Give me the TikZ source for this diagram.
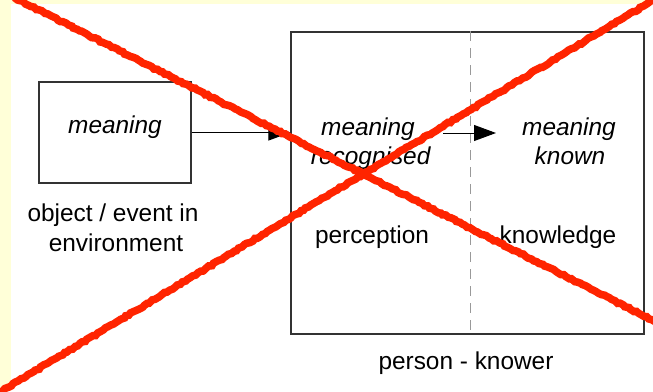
\documentclass[tikz,border=0pt]{standalone}
\usepackage{fontspec}
\setmainfont{Liberation Sans}
\usetikzlibrary{arrows.meta,decorations.pathmorphing}
\definecolor{paper}{HTML}{FFFFD8}
\definecolor{cross}{HTML}{FF2400}
\begin{document}
\begin{tikzpicture}[x=0.5pt, y=-0.5pt,
		every node/.style={font=\fontsize{12.2}{15}\selectfont, inner sep=0pt},
		box/.style={draw=black!80, line width=0.6pt, minimum width=76pt, minimum height=50.5pt},
		lbl/.style={anchor=base},
		link/.style={line width=0.5pt, -{Triangle[length=11pt, width=8pt]}},
		split/.style={draw=black!40, line width=0.6pt, dash pattern=on 5pt off 3.5pt},
		strike/.style={cross, line width=3.8pt, line cap=round,
			decorate, decoration={random steps, segment length=1.5pt, amplitude=0.4pt}}]
	\useasboundingbox (0,0) rectangle (653,391);
	\fill[paper] (0,0) rectangle (653,391);
	\fill[white] (11,4) rectangle (653,391);

	\node[box] (env) at (115,132.5) {};
	\node[box, minimum width=176.5pt, minimum height=151pt] (knower) at (467.5,183) {};
	\coordinate (rs) at (443,133);
	\coordinate (ke) at (496,133);

	\node[lbl] (m1) at (115,133) {\textit{meaning}};
	\node[lbl] (obj) at (113,221) {object / event in};
	\node[lbl] (envt) at (116,251) {environment};
	\node[lbl] (m2) at (368,135) {\textit{meaning}};
	\node[lbl] (rec) at (371,164) {\textit{recognised}};
	\node[lbl] (m3) at (569,135) {\textit{meaning}};
	\node[lbl] (kn) at (570,164) {\textit{known}};
	\node[lbl] (perc) at (372,243) {perception};
	\node[lbl] (know) at (558,243) {knowledge};
	\node[lbl] (pk) at (466,369) {person - knower};

	\draw[split] ([xshift=1.5pt]knower.north) -- ([xshift=1.5pt]knower.south);
	\draw[link] (env.east) -- (env.east -| knower.west);
	\draw[link] (rs) -- (ke);

	\begin{scope}
		\clip (0,0) rectangle (653,391);
		\draw[strike] (15,-2) -- (660,324);
		\draw[strike] (-5,395) -- (660,-4);
	\end{scope}
\end{tikzpicture}
\end{document}
